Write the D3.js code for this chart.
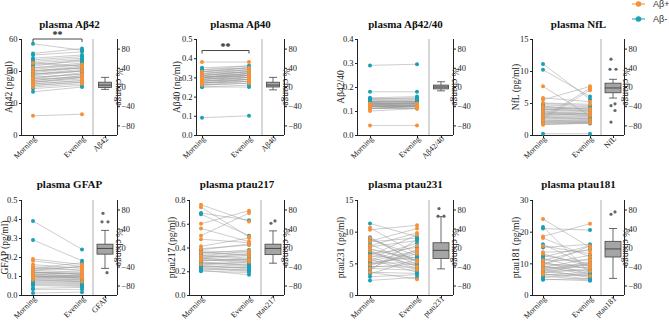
<!DOCTYPE html>
<html><head><meta charset="utf-8">
<script src="https://cdn.jsdelivr.net/npm/d3@7"></script>
<style>body{margin:0;background:#fff}svg{display:block}text{fill:#222;opacity:0.999}</style>
</head><body><svg id="c" width="669" height="321"></svg>
<script>
// ---- data ----
const groups = ["Aβ+","Aβ-"];
const status = ["Aβ+","Aβ+","Aβ+","Aβ+","Aβ+","Aβ+","Aβ+","Aβ+","Aβ+","Aβ+","Aβ+","Aβ+","Aβ+",
  "Aβ-","Aβ-","Aβ-","Aβ-","Aβ-","Aβ-","Aβ-","Aβ-","Aβ-","Aβ-","Aβ-","Aβ-","Aβ-","Aβ-","Aβ-","Aβ-","Aβ-","Aβ-","Aβ-","Aβ-","Aβ-","Aβ-","Aβ-","Aβ-","Aβ-"];
const timepoints = ["Morning","Evening"];

const ab42Morning = [12,30,31,32,33,34,35,36,38,40,42,45,33, 57,51,50,48,47,46,45,44,43,42,41,40,40,39,38,38,37,36,35,34,33,32,31,29,27];
const ab42Evening = [13,32,33,34,35,37,36,38,40,42,44,43,36, 53,54,52,50,49,48,47,46,47,45,44,43,42,42,41,40,40,38,39,37,36,34,33,31,30];
const ab40Morning = [0.38,0.26,0.27,0.28,0.29,0.30,0.30,0.31,0.32,0.28,0.27,0.33,0.29, 0.35,0.34,0.34,0.33,0.33,0.32,0.32,0.31,0.31,0.30,0.30,0.30,0.29,0.29,0.28,0.28,0.27,0.27,0.26,0.26,0.25,0.25,0.30,0.31,0.09];
const ab40Evening = [0.38,0.27,0.29,0.30,0.30,0.31,0.32,0.33,0.34,0.29,0.28,0.35,0.31, 0.36,0.35,0.36,0.34,0.35,0.33,0.34,0.33,0.32,0.32,0.31,0.32,0.30,0.31,0.29,0.30,0.29,0.28,0.27,0.28,0.26,0.25,0.31,0.33,0.10];
const ratioMorning = [0.04,0.10,0.11,0.11,0.12,0.12,0.12,0.13,0.13,0.11,0.12,0.13,0.11, 0.29,0.18,0.155,0.15,0.15,0.145,0.14,0.14,0.14,0.135,0.135,0.13,0.13,0.13,0.125,0.125,0.12,0.12,0.12,0.115,0.14,0.15,0.13,0.125,0.135];
const ratioEvening = [0.04,0.11,0.11,0.12,0.12,0.11,0.12,0.12,0.13,0.11,0.12,0.13,0.12, 0.295,0.18,0.16,0.15,0.155,0.14,0.145,0.14,0.135,0.14,0.13,0.135,0.13,0.125,0.13,0.12,0.125,0.115,0.12,0.12,0.14,0.15,0.135,0.12,0.13];
const nflMorning = [7.6,5.8,5.5,5.0,2.8,2.5,1.8,1.6,3.2,4.0,2.2,3.6,4.4, 11.1,10.2,4.9,4.7,4.5,4.3,4.1,3.9,3.7,3.5,3.3,3.1,2.9,2.8,2.6,2.4,2.2,2.0,1.9,1.7,0.2,4.0,3.4,2.7,2.1];
const nflEvening = [3.0,5.2,7.6,4.8,7.3,7.0,2.0,1.9,3.4,3.8,2.4,3.3,4.1, 5.6,6.0,4.6,4.4,4.0,3.9,3.7,3.6,3.4,3.2,3.1,2.9,2.8,2.6,2.5,2.3,2.1,2.0,1.9,1.8,0.2,4.3,3.0,2.6,2.2];
const gfapMorning = [0.19,0.18,0.16,0.14,0.13,0.12,0.11,0.10,0.09,0.08,0.12,0.15,0.10, 0.39,0.29,0.14,0.135,0.13,0.12,0.115,0.11,0.105,0.10,0.10,0.095,0.09,0.085,0.08,0.075,0.07,0.065,0.06,0.055,0.05,0.035,0.03,0.01,0.12];
const gfapEvening = [0.16,0.15,0.14,0.13,0.15,0.11,0.10,0.09,0.10,0.07,0.12,0.13,0.09, 0.24,0.18,0.17,0.15,0.12,0.11,0.11,0.10,0.10,0.09,0.095,0.085,0.08,0.08,0.075,0.07,0.065,0.06,0.055,0.05,0.045,0.04,0.03,0.015,0.11];
const p217Morning = [0.76,0.74,0.60,0.56,0.50,0.47,0.41,0.39,0.33,0.29,0.36,0.31,0.26, 0.69,0.68,0.38,0.37,0.36,0.35,0.34,0.33,0.32,0.31,0.30,0.29,0.28,0.27,0.26,0.25,0.24,0.23,0.22,0.21,0.20,0.31,0.27,0.24,0.22];
const p217Evening = [0.62,0.49,0.71,0.45,0.69,0.44,0.48,0.42,0.37,0.30,0.33,0.35,0.28, 0.63,0.50,0.43,0.36,0.34,0.38,0.31,0.30,0.33,0.29,0.27,0.30,0.25,0.26,0.24,0.22,0.23,0.21,0.20,0.17,0.19,0.28,0.25,0.23,0.21];
const p231Morning = [10.6,10.3,9.0,8.5,7.8,7.0,6.2,5.5,4.8,4.2,3.6,5.9,7.3, 11.3,9.1,8.8,8.4,8.0,7.6,7.2,6.9,6.5,6.2,5.9,5.6,5.3,5.0,4.7,4.5,4.2,3.9,3.6,3.3,2.9,2.3,6.7,5.1,4.4];
const p231Evening = [6.5,11.0,5.2,10.5,9.8,4.5,9.5,7.8,6.8,7.2,2.5,4.0,5.5, 9.2,5.3,6.2,9.0,4.8,8.6,5.8,4.1,7.5,5.5,8.2,3.6,7.0,5.1,6.5,4.4,3.9,8.8,3.4,5.7,3.2,2.8,4.6,6.0,4.9];
const p181Morning = [24.0,18.5,18.0,13.5,13.0,11.0,9.5,8.0,7.0,6.5,15.5,10.0,8.5, 21.5,21.0,16.0,15.0,12.0,11.5,11.0,10.5,10.0,9.5,9.0,8.7,8.4,8.0,7.7,7.4,7.0,6.7,6.3,6.0,5.5,5.0,4.8,12.5,9.2];
const p181Evening = [15.0,22.5,12.0,14.0,9.0,11.0,15.5,7.5,10.0,6.0,13.0,8.5,9.5, 7.0,20.5,9.0,16.0,15.5,8.0,14.5,6.5,12.5,9.5,7.5,11.5,8.8,5.5,10.5,6.0,8.2,5.0,7.2,4.7,6.8,4.5,5.2,9.8,6.2];

// % change box stats: [lower whisker, Q1, median, Q3, upper whisker]
const ab42Box = [-5,-1,4,10,20];   const ab42Out = [];
const ab40Box = [-6,0,4,10,20];    const ab40Out = [];
const ratioBox = [-8,-4,0,4,11];   const ratioOut = [];
const nflBox = [-23,-12,-2,8,16];  const nflOut = [58,37,37,-35,-39,-49,-73];
const gfapBox = [-44,-14,-2,7,36]; const gfapOut = [72,54,54,-53];
const p217Box = [-33,-15,-2,7,35]; const p217Out = [51,56];
const p231Box = [-45,-23,-6,10,65];const p231Out = [82,66,66];
const p181Box = [-65,-20,-3,13,40];const p181Out = [70,75];

const titles = ["plasma Aβ42","plasma Aβ40","plasma Aβ42/40","plasma NfL","plasma GFAP","plasma ptau217","plasma ptau231","plasma ptau181"];
const yTitles = ["Aβ42 (pg/ml)","Aβ40 (ng/ml)","Aβ42/40","NfL (pg/ml)","GFAP (pg/ml)","ptau217 (pg/ml)","ptau231 (pg/ml)","ptau181 (pg/ml)"];
const boxLabels = ["Aβ42","Aβ40","Aβ42/40","NfL","GFAP","ptau217","ptau231","ptau181"];
const yMax = [60,0.5,0.4,15,0.5,0.8,15,30];
const yTickStep = [20,0.1,0.1,5,0.1,0.2,5,10];
const yDecimals = [0,1,1,0,1,1,0,0];
const morningSets = [ab42Morning,ab40Morning,ratioMorning,nflMorning,gfapMorning,p217Morning,p231Morning,p181Morning];
const eveningSets = [ab42Evening,ab40Evening,ratioEvening,nflEvening,gfapEvening,p217Evening,p231Evening,p181Evening];
const boxSets = [ab42Box,ab40Box,ratioBox,nflBox,gfapBox,p217Box,p231Box,p181Box];
const outSets = [ab42Out,ab40Out,ratioOut,nflOut,gfapOut,p217Out,p231Out,p181Out];
const sigLevel = [60,0.44,null,null,null,null,null,null];
const sigText = ["**","**","","","","","",""];
const pctTicks = [-80,-40,0,40,80];

// ---- layout (pixels) ----
const rows = [{top:39,bottom:135,titleY:28},{top:200,bottom:295,titleY:188}];
const cols = [
  {ax:22,m:33,e:82,sep:93,bx:105,rx:117,yt:12,bw:13},
  {ax:197,m:202,e:249,sep:262,bx:273,rx:284,yt:180,bw:13},
  {ax:358,m:370,e:417,sep:429,bx:441,rx:453,yt:344,bw:15},
  {ax:533,m:543,e:590,sep:601,bx:613,rx:624,yt:519,bw:16},
  {ax:22,m:33,e:82,sep:93,bx:105,rx:117,yt:8,bw:16},
  {ax:190,m:201,e:249,sep:261,bx:273,rx:284,yt:175,bw:16},
  {ax:358,m:370,e:417,sep:429,bx:441,rx:453,yt:344,bw:16},
  {ax:533,m:543,e:590,sep:601,bx:613,rx:624,yt:519,bw:16}
];
const FONT = "'Liberation Serif','Times New Roman',serif";
const color = d3.scaleOrdinal().domain(groups).range(["#f5913a","#1ba0b6"]);
const svg = d3.select("#c");

titles.forEach((title,i)=>{
  const r = rows[i<4?0:1], c = cols[i];
  const g = svg.append("g");
  const y = d3.scaleLinear().domain([0,yMax[i]]).range([r.bottom,r.top]);
  const yR = d3.scaleLinear().domain([-100,100]).range([r.bottom,r.top]);
  const x = d3.scaleOrdinal().domain([...timepoints,boxLabels[i]]).range([c.m,c.e,c.bx]);
  const ticks = d3.range(0,yMax[i]+yTickStep[i]/2,yTickStep[i]);

  g.append("text").attr("x",(c.ax+c.rx)/2).attr("y",r.titleY).attr("text-anchor","middle")
    .attr("font-family",FONT).attr("font-weight","bold").attr("font-size",11).style("fill","#111").text(title);

  g.append("line").attr("x1",c.sep).attr("x2",c.sep).attr("y1",r.top).attr("y2",r.bottom)
    .attr("stroke","#9a9a9a").attr("stroke-width",0.8);

  const la = g.append("g").attr("transform",`translate(${c.ax},0)`)
    .call(d3.axisLeft(y).tickValues(ticks).tickSize(3).tickPadding(1.5).tickFormat(d3.format(`.${yDecimals[i]}f`)));
  const ra = g.append("g").attr("transform",`translate(${c.rx},0)`)
    .call(d3.axisRight(yR).tickValues(pctTicks).tickSize(3).tickPadding(1.5));
  const ba = g.append("g").attr("transform",`translate(0,${r.bottom})`)
    .call(d3.axisBottom(x).tickSize(3));
  ba.select(".domain").remove();
  g.append("line").attr("x1",c.ax).attr("x2",c.rx).attr("y1",r.bottom+0.5).attr("y2",r.bottom+0.5).attr("stroke","#222").attr("stroke-width",1);
  [la,ra,ba].forEach(a=>{
    a.selectAll("text").attr("font-family",FONT).attr("font-size",8.5).style("fill","#222");
    a.selectAll("line,path").attr("stroke","#222");
  });
  ba.selectAll("text").attr("transform","rotate(-45)").attr("text-anchor","end")
    .attr("dx","-0.1em").attr("dy","0.3em").attr("x",0).attr("y",3).attr("font-size",8);
  ra.select(".domain").attr("d",`M0.5,${r.top}V${r.bottom}`);
  la.select(".domain").attr("d",`M-0.5,${r.top}V${r.bottom}`);

  g.append("text").attr("transform",`translate(${c.yt},${(r.top+r.bottom)/2}) rotate(-90)`)
    .attr("text-anchor","middle").attr("font-family",FONT).attr("font-size",9.5).style("fill","#222").text(yTitles[i]);
  g.append("text").attr("transform",`translate(${c.rx-1},${(r.top+r.bottom)/2}) rotate(90)`)
    .attr("text-anchor","middle").attr("font-family",FONT).attr("font-size",9.5).style("fill","#222").text("% change");

  const mv = morningSets[i], ev = eveningSets[i];
  const pairs = mv.map((v,k)=>({m:v,e:ev[k],s:status[k]}));
  g.append("g").selectAll("line").data(pairs).join("line")
    .attr("x1",x("Morning")).attr("x2",x("Evening"))
    .attr("y1",d=>y(d.m)).attr("y2",d=>y(d.e))
    .attr("stroke","#9d9d9d").attr("stroke-width",0.6).attr("opacity",0.85);
  const pts = [];
  pairs.forEach(d=>{pts.push({t:"Morning",v:d.m,s:d.s});pts.push({t:"Evening",v:d.e,s:d.s});});
  pts.sort((a,b)=>(a.s===groups[0]?1:0)-(b.s===groups[0]?1:0));
  g.append("g").selectAll("circle").data(pts).join("circle")
    .attr("cx",d=>x(d.t)).attr("cy",d=>y(d.v)).attr("r",2)
    .attr("fill",d=>color(d.s));

  if (sigLevel[i]!==null){
    const sy = y(sigLevel[i]);
    g.append("path").attr("d",`M${c.m},${sy+3}V${sy}H${c.e}V${sy+3}`).attr("fill","none").attr("stroke","#333").attr("stroke-width",0.9);
    g.append("text").attr("x",(c.m+c.e)/2).attr("y",sy-1).attr("text-anchor","middle")
      .attr("font-family",FONT).attr("font-weight","bold").attr("font-size",10).style("fill","#111").text(sigText[i]);
  }

  const b = boxSets[i], bx = x(boxLabels[i]), bw = c.bw, cw = 8;
  const bg = g.append("g").attr("stroke","#444").attr("stroke-width",0.8);
  bg.append("line").attr("x1",bx).attr("x2",bx).attr("y1",yR(b[0])).attr("y2",yR(b[1]));
  bg.append("line").attr("x1",bx).attr("x2",bx).attr("y1",yR(b[3])).attr("y2",yR(b[4]));
  bg.append("line").attr("x1",bx-cw/2).attr("x2",bx+cw/2).attr("y1",yR(b[0])).attr("y2",yR(b[0]));
  bg.append("line").attr("x1",bx-cw/2).attr("x2",bx+cw/2).attr("y1",yR(b[4])).attr("y2",yR(b[4]));
  bg.append("rect").attr("x",bx-bw/2).attr("width",bw).attr("y",yR(b[3])).attr("height",yR(b[1])-yR(b[3]))
    .attr("fill","#a5a5a5");
  bg.append("line").attr("x1",bx-bw/2).attr("x2",bx+bw/2).attr("y1",yR(b[2])).attr("y2",yR(b[2])).attr("stroke","#333");
  const outs = outSets[i];
  g.append("g").selectAll("circle").data(outs).join("circle")
    .attr("cx",(d,k)=>{const same = outs.filter((o,j)=>o===d&&j<k).length; const dup = outs.filter(o=>o===d).length; return dup>1 ? bx + (same-0.5)*6 : bx + ((k%2)?2:-2);})
    .attr("cy",d=>yR(d)).attr("r",1.6).attr("fill","#666");
});

const lg = svg.append("g").attr("font-family","'Liberation Sans',Arial,sans-serif").attr("font-size",9);
groups.forEach((gname,k)=>{
  const yy = 4 + k*15;
  lg.append("line").attr("x1",632).attr("x2",645).attr("y1",yy).attr("y2",yy).attr("stroke",color(gname)).attr("stroke-width",1);
  lg.append("circle").attr("cx",638.5).attr("cy",yy).attr("r",2.8).attr("fill",color(gname));
  lg.append("text").attr("x",653).attr("y",yy+3).style("fill","#333").text(gname);
});
</script></body></html>
